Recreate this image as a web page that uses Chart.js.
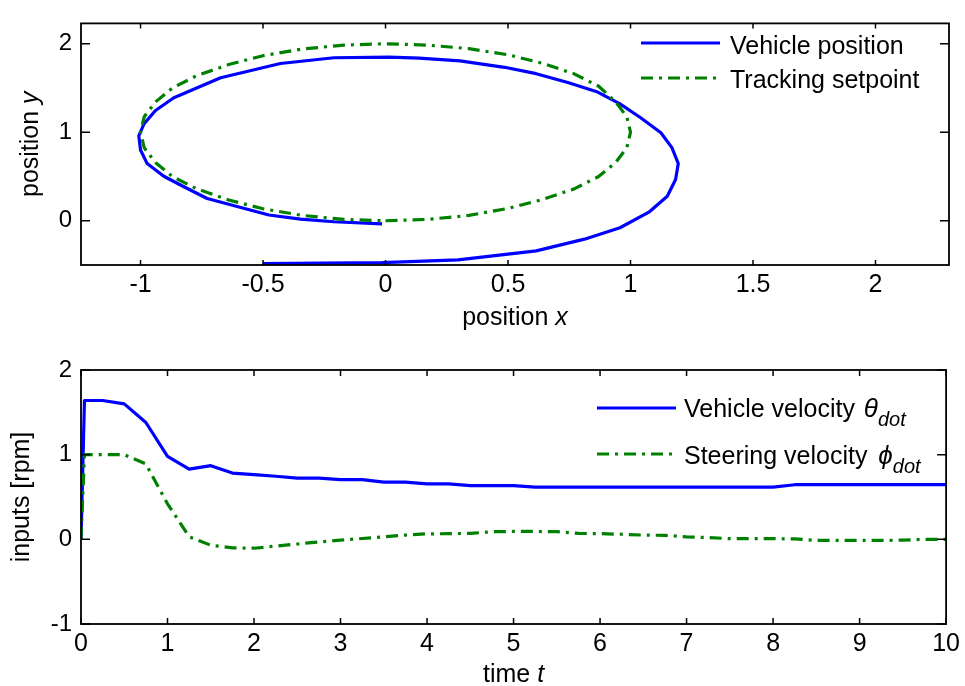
<!DOCTYPE html>
<html><head><meta charset="utf-8">
<script src="https://cdn.jsdelivr.net/npm/chart.js@4.4.1/dist/chart.umd.min.js"></script>
<style>
html,body{margin:0;padding:0;background:#fff;}
#wrap{position:relative;width:965px;height:686px;overflow:hidden;background:#fff;}
canvas{position:absolute;left:0;}
#c1{top:0}
#c2{top:343px}
</style></head><body>
<div id="wrap"><canvas id="c1" width="965" height="343"></canvas><canvas id="c2" width="965" height="343"></canvas></div>
<script>
// ---------- data ----------
const posX = [-0.50, -0.015, 0.296, 0.615, 0.812, 0.957, 1.075, 1.150, 1.184, 1.195, 1.169, 1.124, 1.040, 0.957, 0.866, 0.744, 0.615, 0.486, 0.304, 0.137, 0.015, -0.211, -0.429, -0.673, -0.864, -0.939, -0.986, -1.007, -1.000, -0.973, -0.905, -0.823, -0.728, -0.476, -0.347, -0.211, -0.014];
const posY = [-0.485, -0.474, -0.442, -0.341, -0.208, -0.079, 0.097, 0.276, 0.467, 0.646, 0.826, 0.995, 1.167, 1.321, 1.454, 1.562, 1.662, 1.734, 1.806, 1.838, 1.849, 1.842, 1.777, 1.616, 1.390, 1.246, 1.095, 0.959, 0.800, 0.646, 0.503, 0.384, 0.251, 0.065, 0.018, -0.011, -0.036];

const setX = [0, 0.17, 0.34, 0.50, 0.64, 0.77, 0.87, 0.94, 0.985, 1.0, 0.985, 0.94, 0.87, 0.77, 0.64, 0.50, 0.34, 0.17, 0, -0.17, -0.34, -0.50, -0.64, -0.77, -0.87, -0.94, -0.985, -1.0, -0.985, -0.94, -0.87, -0.77, -0.64, -0.50, -0.34, -0.17, 0];
const setY = [0, 0.015, 0.06, 0.14, 0.24, 0.36, 0.50, 0.66, 0.825, 1.0, 1.175, 1.34, 1.52, 1.66, 1.78, 1.875, 1.945, 1.985, 2.0, 1.985, 1.94, 1.865, 1.765, 1.64, 1.50, 1.34, 1.175, 1.0, 0.825, 0.66, 0.50, 0.36, 0.235, 0.135, 0.06, 0.015, 0];

const timeT = [0, 0.04, 0.25, 0.5, 0.75, 1, 1.25, 1.5, 1.75, 2, 2.25, 2.5, 2.75, 3, 3.25, 3.5, 3.75, 4, 4.25, 4.5, 4.75, 5, 5.25, 5.5, 5.75, 6, 6.25, 6.5, 6.75, 7, 7.25, 7.5, 7.75, 8, 8.25, 8.5, 8.75, 9, 9.25, 9.5, 9.75, 10];
const vehVel = [0, 1.64, 1.64, 1.60, 1.38, 0.98, 0.83, 0.87, 0.783, 0.765, 0.745, 0.724, 0.724, 0.705, 0.705, 0.675, 0.675, 0.655, 0.655, 0.635, 0.635, 0.635, 0.617, 0.617, 0.617, 0.617, 0.617, 0.617, 0.617, 0.617, 0.617, 0.617, 0.617, 0.617, 0.645, 0.645, 0.645, 0.645, 0.645, 0.645, 0.645, 0.645];
const steerVel = [0, 1.0, 1.0, 1.0, 0.89, 0.42, 0.03, -0.07, -0.10, -0.105, -0.08, -0.055, -0.03, -0.01, 0.01, 0.03, 0.05, 0.065, 0.067, 0.07, 0.09, 0.093, 0.093, 0.09, 0.07, 0.067, 0.06, 0.05, 0.047, 0.03, 0.02, 0.008, 0.008, 0.008, 0.005, -0.012, -0.012, -0.012, -0.012, -0.01, 0.0, 0.0];

const topXTicks = [-1, -0.5, 0, 0.5, 1, 1.5, 2];
const topYTicks = [0, 1, 2];
const botXTicks = [0, 1, 2, 3, 4, 5, 6, 7, 8, 9, 10];
const botYTicks = [-1, 0, 1, 2];

const topSeriesNames = ['Vehicle position', 'Tracking setpoint'];
const botSeriesNames = ['Vehicle velocity ', 'Steering velocity '];

// ---------- styling ----------
const FONT = '"Liberation Sans", Arial, sans-serif';
const BLUE = '#0000ff', GREEN = '#008000';
const DASHDOT = [12, 6, 3, 6];
const f = (sz, it) => (it ? 'italic ' : '') + sz + 'px ' + FONT;

function segWidth(ctx, segs) {
  let w = 0;
  segs.forEach(s => { ctx.font = s.font; w += ctx.measureText(s.text).width + (s.gap || 0); });
  return w;
}
function drawSegs(ctx, segs, x, y, align) {
  let cx = align === 'center' ? x - segWidth(ctx, segs) / 2 : x;
  segs.forEach(s => {
    ctx.font = s.font; cx += s.gap || 0;
    ctx.fillText(s.text, cx, y + (s.dy || 0));
    cx += ctx.measureText(s.text).width;
  });
}

const framePlugin = {
  id: 'frame',
  afterDatasetsDraw(chart, args, o) {
    const { ctx, chartArea: a } = chart;
    const xs = chart.scales.x, ys = chart.scales.y;
    ctx.save();
    ctx.strokeStyle = '#000'; ctx.lineWidth = 1.5; ctx.setLineDash([]);
    ctx.beginPath();
    xs.ticks.forEach(t => {
      const p = xs.getPixelForValue(t.value);
      ctx.moveTo(p, a.bottom); ctx.lineTo(p, a.bottom - o.xLen);
      ctx.moveTo(p, a.top); ctx.lineTo(p, a.top + o.xLen);
    });
    ys.ticks.forEach(t => {
      const p = ys.getPixelForValue(t.value);
      ctx.moveTo(a.left, p); ctx.lineTo(a.left + o.yLen, p);
      ctx.moveTo(a.right, p); ctx.lineTo(a.right - o.yLen, p);
    });
    ctx.stroke();
    ctx.lineWidth = 1.8;
    ctx.strokeRect(a.left, a.top, a.right - a.left, a.bottom - a.top);
    ctx.restore();
  },
  afterDraw(chart, args, o) {
    const { ctx, chartArea: a } = chart;
    ctx.save();
    ctx.fillStyle = '#000'; ctx.textBaseline = 'alphabetic'; ctx.textAlign = 'left';
    const cxm = (a.left + a.right) / 2, cym = (a.top + a.bottom) / 2;
    drawSegs(ctx, o.xTitle, cxm, o.xTitleY, 'center');
    ctx.save(); ctx.translate(o.yTitleX, cym); ctx.rotate(-Math.PI / 2);
    drawSegs(ctx, o.yTitle, 0, 0, 'center'); ctx.restore();
    o.legend.forEach(L => {
      ctx.save(); ctx.strokeStyle = L.color; ctx.lineWidth = 3.2; ctx.setLineDash(L.dash || []);
      ctx.beginPath(); ctx.moveTo(L.x0, L.ly); ctx.lineTo(L.x1, L.ly); ctx.stroke(); ctx.restore();
      drawSegs(ctx, L.segs, L.tx, L.ty, 'left');
    });
    ctx.restore();
  }
};

function tickSetter(arr) { return s => { s.ticks = arr.map(v => ({ value: v })); }; }

function makeChart(id, cfg) {
  return new Chart(document.getElementById(id), {
    type: 'line',
    data: { datasets: cfg.datasets },
    plugins: [framePlugin],
    options: {
      responsive: false, animation: false, devicePixelRatio: 1,
      layout: { padding: { top: cfg.padTop, right: 16, bottom: 0, left: 0 } },
      plugins: { legend: { display: false }, tooltip: { enabled: false }, frame: cfg.frame },
      elements: { point: { radius: 0 }, line: { tension: 0, borderWidth: 3.2, borderJoinStyle: 'round', borderCapStyle: 'butt' } },
      scales: {
        x: {
          type: 'linear', min: cfg.xMin, max: cfg.xMax,
          afterBuildTicks: tickSetter(cfg.xTicks),
          afterFit: s => { s.height = cfg.xH; },
          grid: { display: false, drawTicks: false }, border: { display: false },
          ticks: { color: '#000', font: { family: FONT, size: 25 }, padding: 5, maxRotation: 0, autoSkip: false, callback: v => String(v) }
        },
        y: {
          type: 'linear', min: cfg.yMin, max: cfg.yMax,
          afterBuildTicks: tickSetter(cfg.yTicks),
          afterFit: s => { s.width = 81; },
          grid: { display: false, drawTicks: false }, border: { display: false },
          ticks: { color: '#000', font: { family: FONT, size: 24 }, padding: 9, autoSkip: false, callback: v => String(v) }
        }
      }
    }
  });
}

// ---------- top chart ----------
makeChart('c1', {
  padTop: 11, xH: 78,
  xMin: -1.243, xMax: 2.30, yMin: -0.5, yMax: 2.23,
  xTicks: topXTicks, yTicks: topYTicks,
  datasets: [
    { label: topSeriesNames[0], data: posX.map((x, i) => ({ x, y: posY[i] })), borderColor: BLUE, order: 1 },
    { label: topSeriesNames[1], data: setX.map((x, i) => ({ x, y: setY[i] })), borderColor: GREEN, borderDash: DASHDOT, order: 0 }
  ],
  frame: {
    xLen: 5, yLen: 9,
    xTitle: [{ text: 'position ', font: f(25) }, { text: 'x', font: f(25, true) }], xTitleY: 325,
    yTitle: [{ text: 'position ', font: f(25) }, { text: 'y', font: f(25, true) }], yTitleX: 38,
    legend: [
      { color: BLUE, x0: 641, x1: 720, ly: 43, tx: 730, ty: 54, segs: [{ text: topSeriesNames[0], font: f(25) }] },
      { color: GREEN, dash: DASHDOT, x0: 641, x1: 720, ly: 78, tx: 730, ty: 88, segs: [{ text: topSeriesNames[1], font: f(25) }] }
    ]
  }
});

// ---------- bottom chart ----------
makeChart('c2', {
  padTop: 27, xH: 62,
  xMin: 0, xMax: 10, yMin: -1, yMax: 2,
  xTicks: botXTicks, yTicks: botYTicks,
  datasets: [
    { label: botSeriesNames[0], data: timeT.map((x, i) => ({ x, y: vehVel[i] })), borderColor: BLUE, order: 1 },
    { label: botSeriesNames[1], data: timeT.map((x, i) => ({ x, y: steerVel[i] })), borderColor: GREEN, borderDash: DASHDOT, order: 0 }
  ],
  frame: {
    xLen: 6, yLen: 9,
    xTitle: [{ text: 'time ', font: f(25) }, { text: 't', font: f(25, true) }], xTitleY: 339,
    yTitle: [{ text: 'inputs [rpm]', font: f(25) }], yTitleX: 29,
    legend: [
      { color: BLUE, x0: 597, x1: 676, ly: 65, tx: 684, ty: 74,
        segs: [{ text: botSeriesNames[0], font: f(25) }, { text: 'θ', font: f(26, true), gap: 2 }, { text: 'dot', font: f(20, true), dy: 9 }] },
      { color: GREEN, dash: DASHDOT, x0: 597, x1: 676, ly: 111, tx: 684, ty: 121,
        segs: [{ text: botSeriesNames[1], font: f(25) }, { text: 'ϕ', font: f(26, true), gap: 4 }, { text: 'dot', font: f(20, true), dy: 9 }] }
    ]
  }
});
</script>
</body></html>
